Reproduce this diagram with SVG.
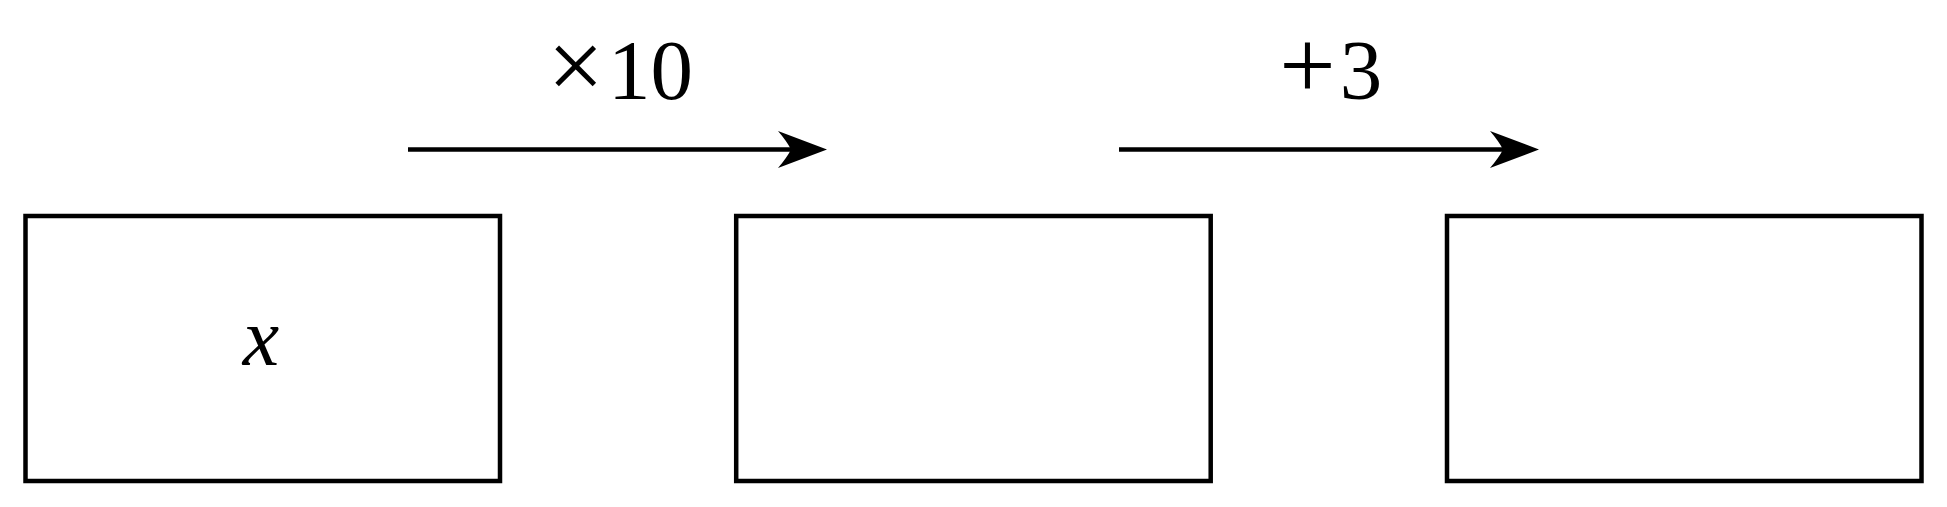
<svg xmlns="http://www.w3.org/2000/svg" width="1947" height="507" viewBox="0 0 1947 507">
  <style>
    .box { fill: #ffffff; stroke: #000000; stroke-width: 4.5; }
    .conn { stroke: #000000; stroke-width: 4.6; fill: none; }
    .head { fill: #000000; stroke: none; }
    .lbl { font-family: "Liberation Serif", "DejaVu Serif", serif; font-size: 85px; fill: #000000; text-anchor: middle; }
    .op { font-size: 100px; }
    .var { font-family: "Liberation Serif", "DejaVu Serif", serif; font-style: italic; font-size: 82px; fill: #000000; text-anchor: middle; }
  </style>
  <defs>
    <path id="arrowhead" class="head" d="M 0 0 L -49 -18.5 Q -40 -8 -36 0 Q -40 8 -49 18.5 Z"/>
  </defs>
  <rect x="0" y="0" width="1947" height="507" fill="#ffffff"/>

  <g id="node-x">
    <rect class="box" x="25.5" y="216" width="474.5" height="265"/>
    <text class="var" x="261" y="365">x</text>
  </g>
  <g id="node-2">
    <rect class="box" x="736.2" y="216" width="474.5" height="265"/>
  </g>
  <g id="node-3">
    <rect class="box" x="1447" y="216" width="474.5" height="265"/>
  </g>

  <g id="connectors">
    <g id="edge-1">
      <line class="conn" x1="408" y1="149.5" x2="795" y2="149.5"/>
      <use href="#arrowhead" transform="translate(827 149.5)"/>
      <text class="lbl" y="99"><tspan class="op" x="575.7">×</tspan><tspan x="650.4">10</tspan></text>
    </g>
    <g id="edge-2">
      <line class="conn" x1="1119" y1="149.5" x2="1507" y2="149.5"/>
      <use href="#arrowhead" transform="translate(1539 149.5)"/>
      <text class="lbl" y="99"><tspan class="op" x="1307.5">+</tspan><tspan x="1361">3</tspan></text>
    </g>
  </g>
</svg>
